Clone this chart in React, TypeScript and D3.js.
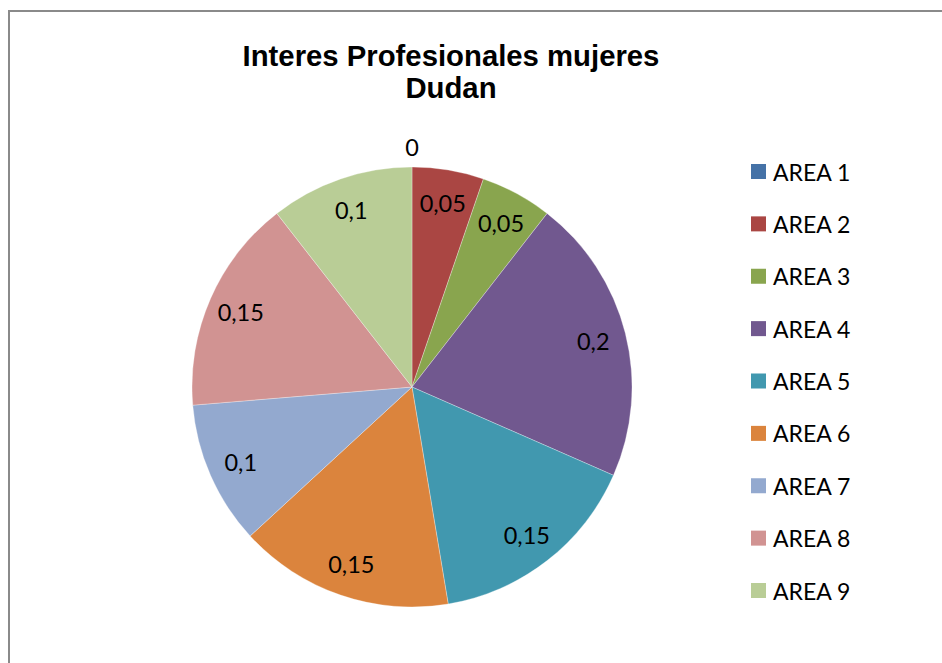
import React from "react";
import * as d3 from "d3";

const categories = ["AREA 1", "AREA 2", "AREA 3", "AREA 4", "AREA 5", "AREA 6", "AREA 7", "AREA 8", "AREA 9"];
const values = [0, 0.05, 0.05, 0.2, 0.15, 0.15, 0.1, 0.15, 0.1];
const labels = ["0", "0,05", "0,05", "0,2", "0,15", "0,15", "0,1", "0,15", "0,1"];
const colors = ["#4572A7", "#AA4643", "#89A54E", "#71588F", "#4198AF", "#DB843D", "#93A9CF", "#D19392", "#B9CD96"];
const titleLines = ["Interes Profesionales mujeres", "Dudan"];

export default function App() {
  const W = 942, H = 663;
  const cx = 412, cy = 387, r = 220;
  const pie = d3.pie<number>().value((d) => d).sort(null);
  const arcs = pie(values);
  const arc = d3.arc<d3.PieArcDatum<number>>().innerRadius(0).outerRadius(r);
  const labelArc = d3.arc<d3.PieArcDatum<number>>().innerRadius(187).outerRadius(187);
  const outerArc = d3.arc<d3.PieArcDatum<number>>().innerRadius(240).outerRadius(240);
  const legendY = d3.scalePoint<string>().domain(categories).range([171.5, 590.5]);
  const font = "Lato, Carlito, Calibri, sans-serif";
  return (
    <svg width={W} height={H} style={{ position: "absolute", left: 0, top: 0, background: "#fff" }}>
      <rect x={9} y={11} width={1000} height={1000} fill="#fff" stroke="#8a8a8a" strokeWidth={2} />
      <g fontFamily="Liberation Sans, Arial, sans-serif" fontWeight="bold" fontSize={29.3} textAnchor="middle" fill="#000">
        {titleLines.map((t, i) => (
          <text key={i} x={451} y={66 + i * 32}>{t}</text>
        ))}
      </g>
      <g transform={`translate(${cx},${cy})`}>
        {arcs.map((a, i) => (
          <path key={i} d={arc(a) || ""} fill={colors[i]} stroke="#fff" strokeWidth={0.5} strokeOpacity={0.6} />
        ))}
        {arcs.map((a, i) => {
          const [x, y] = a.value === 0 ? outerArc.centroid(a) : labelArc.centroid(a);
          return (
            <text key={i} x={x} y={y} textAnchor="middle" dominantBaseline="central" fontFamily={font} fontSize={23.5} fill="#000">
              {labels[i]}
            </text>
          );
        })}
      </g>
      <g fontFamily={font} fontSize={23} fill="#000">
        {categories.map((c, i) => (
          <g key={c} transform={`translate(751,${legendY(c)})`}>
            <rect x={0} y={-7.5} width={15} height={15} fill={colors[i]} />
            <text x={22} y={0} dominantBaseline="central">{c}</text>
          </g>
        ))}
      </g>
    </svg>
  );
}
